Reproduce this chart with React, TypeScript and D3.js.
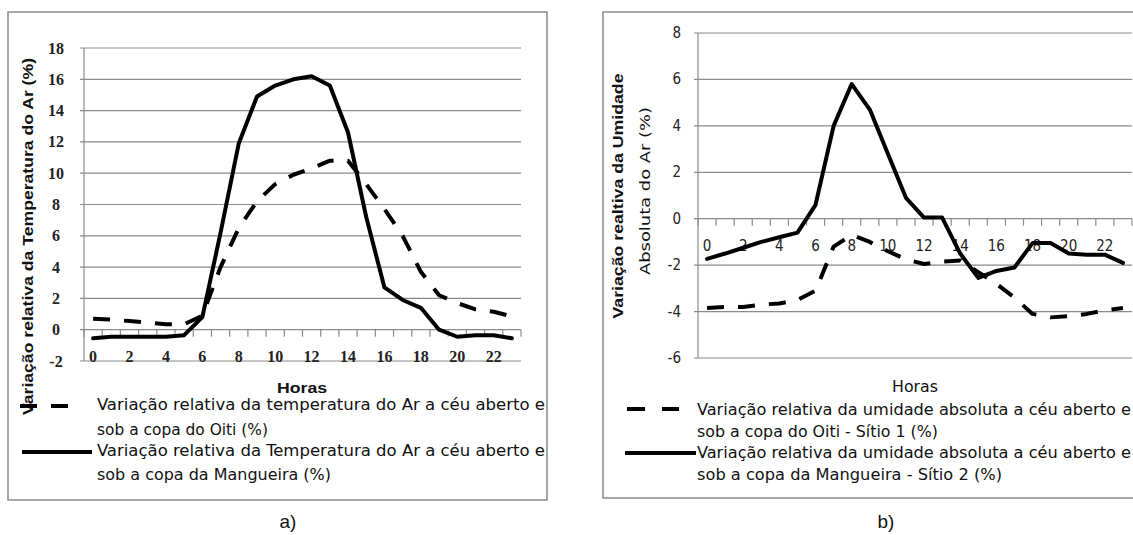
import React from "react";
import * as d3 from "d3";

const hours = d3.range(0, 24).map(String);
const hourLabels = ["0", "2", "4", "6", "8", "10", "12", "14", "16", "18", "20", "22"];

const tempOiti = [0.7, 0.65, 0.55, 0.45, 0.35, 0.35, 0.9, 4.0, 6.5, 8.2, 9.3, 9.9, 10.3, 10.8, 10.8, 9.3, 7.7, 6.0, 3.7, 2.2, 1.7, 1.3, 1.15, 0.85];
const tempMangueira = [-0.55, -0.45, -0.45, -0.45, -0.45, -0.35, 0.8, 6.2, 11.9, 14.9, 15.6, 16.0, 16.2, 15.6, 12.6, 7.2, 2.7, 1.9, 1.4, 0.0, -0.45, -0.35, -0.35, -0.55];
const tempTicks = [-2, 0, 2, 4, 6, 8, 10, 12, 14, 16, 18];

const umidOiti = [-3.85, -3.8, -3.8, -3.7, -3.65, -3.5, -3.1, -1.2, -0.7, -1.0, -1.4, -1.75, -1.95, -1.85, -1.8, -2.3, -2.8, -3.4, -4.1, -4.25, -4.2, -4.1, -3.95, -3.85];
const umidMangueira = [-1.73, -1.5, -1.25, -1.0, -0.8, -0.6, 0.6, 4.0, 5.8, 4.7, 2.8, 0.9, 0.05, 0.05, -1.5, -2.55, -2.25, -2.1, -1.05, -1.05, -1.5, -1.55, -1.55, -1.9];
const umidTicks = [-6, -4, -2, 0, 2, 4, 6, 8];

const legendA = [
  "Variação relativa da temperatura  do Ar  a céu aberto e",
  "sob a copa do Oiti (%)",
  "Variação relativa da Temperatura  do Ar  a céu aberto e",
  "sob a copa da Mangueira (%)",
];
const legendB = [
  "Variação relativa da umidade absoluta a céu aberto e",
  "sob a copa do Oiti - Sítio 1 (%)",
  "Variação relativa da umidade absoluta a céu aberto e",
  "sob a copa da Mangueira - Sítio 2 (%)",
];

const GRID = "#8a8a8a";
const NARROW = "'Liberation Sans Narrow', 'DejaVu Sans Condensed', 'Liberation Sans', sans-serif";
const SANS = "'Liberation Sans', Arial, sans-serif";
const SERIF = "'Liberation Serif', 'DejaVu Serif', 'Times New Roman', serif";
const DASH = "17,14";

type PanelProps = {
  x0: number; x1: number; yTop: number; yBot: number;
  domain: [number, number]; ticks: number[];
  dashed: number[]; solid: number[];
  tickFont: string; tickWeight: string | number; tickSize: number; tickX: number; tickAnchor: "middle" | "end";
};

function Panel(p: PanelProps) {
  const x = d3.scaleBand<string>().domain(hours).range([p.x0, p.x1]);
  const y = d3.scaleLinear().domain(p.domain).range([p.yBot, p.yTop]);
  const line = d3
    .line<number>()
    .x((_, i) => (x(hours[i]) as number) + x.bandwidth() / 2)
    .y((v) => y(v));
  const y0 = y(0);
  const boundaries = d3.range(0, 25).map((i) => p.x0 + i * x.bandwidth());
  return (
    <g>
      {p.ticks.map((t) => (
        <g key={t}>
          <line x1={p.x0 - 4} x2={p.x1} y1={y(t)} y2={y(t)} stroke={GRID} strokeWidth={1.2} />
          <text x={p.tickX} y={y(t)} textAnchor={p.tickAnchor} dominantBaseline="central"
            fontFamily={p.tickFont} fontWeight={p.tickWeight} fontSize={p.tickSize} fill="#222">{t}</text>
        </g>
      ))}
      <line x1={p.x0} x2={p.x0} y1={y(p.domain[1])} y2={y(p.domain[0])} stroke={GRID} strokeWidth={1.2} />
      {boundaries.map((bx, i) => (
        <line key={i} x1={bx} x2={bx} y1={y0} y2={y0 + 7} stroke={GRID} strokeWidth={1.2} />
      ))}
      {hourLabels.map((h) => (
        <text key={h} x={(x(h) as number) + x.bandwidth() / 2} y={y0 + 27} textAnchor="middle"
          dominantBaseline="central" fontFamily={p.tickFont} fontWeight={p.tickWeight} fontSize={p.tickSize} fill="#222">{h}</text>
      ))}
      <path d={line(p.dashed) || ""} fill="none" stroke="#000" strokeWidth={4} strokeDasharray={DASH} strokeLinejoin="round" />
      <path d={line(p.solid) || ""} fill="none" stroke="#000" strokeWidth={4} strokeLinejoin="round" strokeLinecap="round" />
    </g>
  );
}

export default function App() {
  const legendTxt = (s: string, x: number, yy: number, w: number, key: string) => (
    <text key={key} x={x} y={yy} dominantBaseline="central" fontFamily={NARROW} fontSize={15} fill="#111"
      textLength={w} lengthAdjust="spacingAndGlyphs">{s}</text>
  );
  return (
    <svg width={1133} height={535} style={{ position: "absolute", left: 0, top: 0, background: "#fff" }}>
      <rect x={0} y={0} width={1133} height={535} fill="#fff" />
      {/* Frames */}
      <rect x={8} y={12} width={539} height={488} fill="none" stroke={GRID} strokeWidth={1.5} />
      <rect x={603} y={12} width={540} height={486} fill="none" stroke={GRID} strokeWidth={1.5} />

      {/* Panel a */}
      <Panel x0={84} x1={521} yTop={48} yBot={361} domain={[-2, 18]} ticks={tempTicks}
        dashed={tempOiti} solid={tempMangueira} tickFont={SERIF} tickWeight="bold" tickSize={16} tickX={56} tickAnchor="middle" />
      <text transform="translate(28,236.5) rotate(-90)" textAnchor="middle" dominantBaseline="central"
        fontFamily={SANS} fontWeight="bold" fontSize={14} fill="#111" textLength={357} lengthAdjust="spacingAndGlyphs">
        Variação relativa da Temperatura do Ar (%)
      </text>
      <text x={302} y={388} textAnchor="middle" dominantBaseline="central" fontFamily={SANS} fontWeight="bold"
        fontSize={14} fill="#111" textLength={50} lengthAdjust="spacingAndGlyphs">Horas</text>
      <line x1={20} x2={76} y1={406} y2={406} stroke="#000" strokeWidth={4} strokeDasharray={DASH} />
      <line x1={22} x2={92} y1={452} y2={452} stroke="#000" strokeWidth={4} />
      {legendTxt(legendA[0], 97, 405, 448, "a0")}
      {legendTxt(legendA[1], 97, 430, 171, "a1")}
      {legendTxt(legendA[2], 97, 451, 448, "a2")}
      {legendTxt(legendA[3], 97, 475, 234, "a3")}
      <text x={288} y={521} textAnchor="middle" dominantBaseline="central" fontFamily={SANS} fontSize={19} fill="#111">a)</text>

      {/* Panel b */}
      <Panel x0={698} x1={1132} yTop={33} yBot={358} domain={[-6, 8]} ticks={umidTicks}
        dashed={umidOiti} solid={umidMangueira} tickFont={NARROW} tickWeight="normal" tickSize={15} tickX={681} tickAnchor="end" />
      <text transform="translate(618,196) rotate(-90)" textAnchor="middle" dominantBaseline="central"
        fontFamily={SANS} fontWeight="bold" fontSize={14} fill="#111" textLength={245} lengthAdjust="spacingAndGlyphs">
        Variação realtiva da Umidade
      </text>
      <text transform="translate(645,191) rotate(-90)" textAnchor="middle" dominantBaseline="central"
        fontFamily={NARROW} fontSize={14} fill="#111" textLength={168} lengthAdjust="spacingAndGlyphs">
        Absoluta do Ar  (%)
      </text>
      <text x={915} y={387} textAnchor="middle" dominantBaseline="central" fontFamily={NARROW}
        fontSize={15} fill="#111" textLength={46} lengthAdjust="spacingAndGlyphs">Horas</text>
      <line x1={627} x2={679} y1={409} y2={409} stroke="#000" strokeWidth={4} strokeDasharray="18,17" />
      <line x1={625} x2={696} y1={453} y2={453} stroke="#000" strokeWidth={4} />
      {legendTxt(legendB[0], 697, 410, 434, "b0")}
      {legendTxt(legendB[1], 697, 432, 241, "b1")}
      {legendTxt(legendB[2], 697, 453, 434, "b2")}
      {legendTxt(legendB[3], 697, 475, 305, "b3")}
      <text x={886} y={521} textAnchor="middle" dominantBaseline="central" fontFamily={SANS} fontSize={19} fill="#111">b)</text>
    </svg>
  );
}
